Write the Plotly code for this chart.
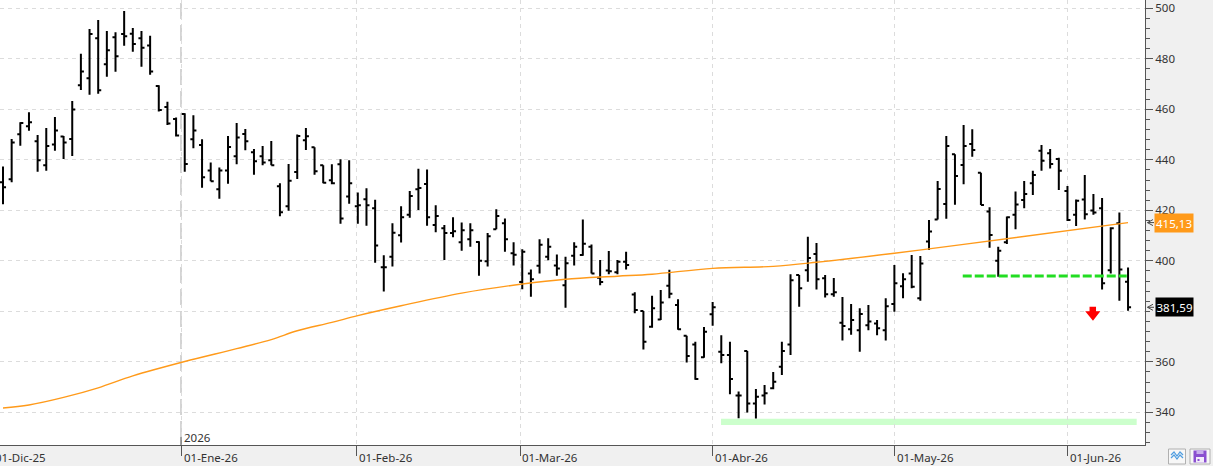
import plotly.graph_objects as go

# ---------------- data ----------------
session = list(range(131))  # trading sessions, 0 = first bar (early Dec-25)

open_ = [431.1, 432.3, 450.1, 453.3, 447.3, 437.8, 446.1, 449.2, 448.2, 469.5,
         472.3, 488.1, 477.8, 488.5, 489.8, 489.9, 488.1, 485.3, 469.2, 460.9,
         456.2, 458.1, 448.1, 445.9, 435.8, 428.3, 435.8, 441.4, 450.2, 443.0,
         441.4, 439.8, 429.5, 421.6, 435.2, 447.7, 445.0, 437.8, 431.9, 438.2,
         425.5, 421.6, 424.4, 420.8, 397.4, 401.6, 410.1, 418.2, 428.3, 430.4,
         414.2, 412.9, 411.0, 407.3, 408.5, 407.4, 399.8, 412.5, 414.9, 403.0,
         391.6, 395.0, 398.0, 401.6, 398.1, 390.3, 402.0, 402.3, 405.6, 393.3,
         396.2, 395.5, 399.6, 386.7, 380.1, 373.9, 376.8, 390.1, 382.5, 370.3,
         366.9, 361.8, 378.8, 364.0, 362.7, 346.7, 364.3, 343.5, 346.7, 349.5,
         358.0, 366.9, 394.4, 396.3, 402.7, 393.1, 386.8, 375.5, 372.9, 372.5,
         374.5, 375.2, 372.5, 382.9, 389.9, 395.0, 385.2, 407.6, 416.4, 422.5,
         442.2, 437.9, 446.3, 434.9, 419.5, 400.0, 407.3, 418.2, 424.1, 430.7,
         443.6, 442.6, 440.3, 427.6, 418.2, 424.3, 419.9, 420.8, 396.3, 414.9,
         391.7]
high = [437.3, 448.2, 454.9, 458.8, 449.8, 452.6, 457.0, 449.4, 463.3, 482.0,
        491.8, 495.4, 491.0, 490.5, 498.9, 492.2, 491.0, 489.1, 469.5, 463.0,
        456.8, 458.4, 457.6, 448.1, 438.9, 437.0, 449.4, 454.6, 452.2, 444.3,
        445.5, 447.4, 430.7, 438.3, 450.0, 452.6, 445.0, 437.8, 438.2, 440.2,
        439.8, 427.1, 428.7, 424.2, 402.2, 414.9, 421.6, 427.6, 436.5, 436.2,
        422.0, 414.2, 417.2, 415.2, 414.9, 407.7, 411.0, 420.4, 416.8, 407.3,
        404.6, 396.6, 408.5, 408.9, 402.5, 401.6, 407.3, 416.4, 406.5, 400.3,
        403.9, 400.3, 403.6, 387.5, 380.1, 386.2, 388.4, 396.5, 384.8, 370.3,
        367.9, 373.8, 383.7, 370.5, 367.9, 348.2, 364.3, 349.2, 350.8, 356.0,
        367.9, 394.7, 394.4, 409.5, 407.1, 394.4, 393.2, 385.7, 382.9, 381.2,
        382.5, 376.6, 385.2, 398.3, 395.1, 402.3, 401.9, 416.2, 431.6, 449.4,
        442.2, 453.8, 452.1, 434.9, 421.2, 405.6, 417.5, 427.4, 431.6, 435.7,
        445.9, 444.3, 440.8, 429.6, 424.3, 434.0, 426.5, 424.9, 413.3, 419.1,
        397.3]
low = [422.4, 431.1, 445.6, 451.5, 435.3, 435.7, 443.6, 440.3, 441.5, 467.6,
       465.8, 466.2, 472.9, 474.9, 485.2, 482.8, 476.9, 473.7, 459.1, 453.8,
       449.2, 435.3, 444.6, 428.9, 431.5, 424.6, 430.5, 438.2, 443.8, 434.1,
       437.8, 437.8, 417.6, 419.8, 432.4, 443.9, 434.1, 430.7, 430.3, 414.7,
       422.6, 414.7, 413.9, 399.2, 387.8, 397.7, 407.2, 417.1, 420.1, 413.9,
       411.3, 400.3, 409.3, 404.0, 405.6, 394.1, 397.7, 412.5, 403.6, 398.1,
       388.7, 385.8, 395.0, 400.2, 394.1, 381.4, 398.1, 402.0, 395.0, 390.3,
       394.7, 394.7, 396.6, 379.2, 364.9, 373.5, 376.6, 385.2, 372.7, 359.7,
       352.9, 361.6, 374.3, 359.4, 347.1, 337.6, 339.9, 337.5, 343.1, 349.1,
       354.8, 362.7, 381.8, 391.7, 388.6, 385.5, 385.8, 368.4, 370.7, 364.0,
       372.5, 370.5, 368.4, 379.8, 385.2, 389.1, 384.2, 404.3, 416.4, 416.7,
       422.2, 430.3, 441.2, 422.1, 405.2, 393.7, 406.7, 412.5, 420.8, 426.1,
       435.7, 436.6, 428.0, 415.8, 413.8, 416.4, 418.2, 388.6, 395.0, 384.2,
       380.2]
close = [429.1, 446.9, 454.6, 454.9, 439.8, 445.5, 451.6, 446.9, 459.9, 475.0,
         489.8, 467.5, 483.4, 481.0, 488.9, 485.9, 484.4, 475.0, 459.7, 454.4,
         449.6, 438.3, 451.6, 433.1, 431.5, 435.8, 445.1, 448.8, 447.3, 439.4,
         438.9, 437.8, 419.2, 431.7, 449.4, 449.3, 435.5, 430.9, 430.7, 416.8,
         430.7, 422.0, 422.0, 406.1, 397.4, 411.1, 417.2, 425.7, 428.8, 417.2,
         417.7, 411.0, 411.7, 412.1, 412.1, 400.0, 409.7, 417.7, 408.5, 402.4,
         403.6, 392.7, 406.4, 405.6, 397.0, 399.0, 405.6, 406.8, 395.0, 391.6,
         395.9, 399.6, 398.3, 380.5, 367.9, 381.2, 383.5, 387.0, 372.9, 362.3,
         353.2, 371.9, 381.6, 362.7, 353.2, 346.7, 343.5, 346.2, 347.5, 352.1,
         364.3, 392.3, 389.1, 401.1, 392.7, 386.8, 387.5, 374.2, 376.6, 378.9,
         376.0, 373.3, 382.0, 391.1, 392.7, 389.7, 398.9, 411.6, 428.4, 445.5,
         433.6, 445.5, 443.9, 422.1, 410.2, 404.0, 417.2, 422.3, 426.5, 434.0,
         439.6, 438.3, 435.7, 416.2, 423.8, 418.4, 419.1, 391.1, 412.9, 396.6,
         381.59]

# long moving average (orange), read at selected sessions
ma_session = [0, 3, 7, 11, 15, 21, 27, 31, 34, 38, 41, 46, 53, 60, 65, 71, 75,
              82, 89, 94, 103, 111, 130]
ma_value = [341.7, 342.9, 345.9, 349.7, 354.4, 360.1, 365.2, 368.8, 372.3,
            375.6, 378.3, 382.2, 387.2, 390.8, 392.7, 393.9, 394.7, 397.0,
            397.8, 399.4, 403.0, 406.5, 415.13]

month_pos = [-1.2, 20.57, 40.79, 59.74, 82.0, 103.0, 123.0]
month_labels = ["01-Dic-25", "01-Ene-26", "01-Feb-26", "01-Mar-26",
                "01-Abr-26", "01-May-26", "01-Jun-26"]
year_pos = 20.57
year_label = "2026"

price_ticks = [340, 360, 400, 420, 440, 460, 480, 500]
price_tick_labels = ["340", "360", "400", "420", "440", "460", "480", "500"]

support_level = 394.0
support_span = [110.9, 129.85]
floor_band = [335.0, 337.4]
floor_span = [82.97, 131.0]
arrow_session = 125.95

last_ma = 415.13
last_close = 381.59
last_ma_text = "415,13"
last_close_text = "381,59"

# ---------------- layout constants ----------------
W, H = 1213, 466
ML, MR, MT, MB = 0, 68, 0, 21
PW, PH = W - ML - MR, H - MT - MB
XR = [-0.347, 131.96]
YR = [327.05, 503.29]

FONT = "Noto Sans, Open Sans, Arial, sans-serif"
FS = 11.5
TXT = "#333333"
AX = "#555555"
GRID = "#dcdcdc"
ORANGE = "#ff9a1a"


def xp(px):
    return px / PW


def yp(py):
    return (PH - py) / PH


def x2paper(v):
    return (v - XR[0]) / (XR[1] - XR[0])


fig = go.Figure()

fig.add_trace(go.Scatter(
    x=ma_session, y=ma_value, mode="lines",
    line=dict(color=ORANGE, width=1.4, shape="spline", smoothing=1.0),
    hoverinfo="skip", showlegend=False))

fig.add_trace(go.Ohlc(
    x=session, open=open_, high=high, low=low, close=close,
    increasing=dict(line=dict(color="black", width=2)),
    decreasing=dict(line=dict(color="black", width=2)),
    tickwidth=0.35, hoverinfo="skip", showlegend=False))

fig.add_trace(go.Scatter(
    x=support_span, y=[support_level, support_level], mode="lines",
    line=dict(color="#22dd22", width=3, dash="9px,3px"),
    hoverinfo="skip", showlegend=False))

shapes = []
# green floor band
shapes.append(dict(type="rect", xref="x", yref="y",
                   x0=floor_span[0], x1=floor_span[1],
                   y0=floor_band[0], y1=floor_band[1],
                   fillcolor="#ccffcc", line=dict(width=0), layer="below"))
# year separator
shapes.append(dict(type="line", xref="x", yref="paper",
                   x0=year_pos, x1=year_pos, y0=yp(437), y1=1,
                   line=dict(color="#c8c8c8", width=1.6, dash="16px,6px"),
                   layer="below"))
shapes.append(dict(type="line", xref="x", yref="paper",
                   x0=year_pos, x1=year_pos, y0=0, y1=yp(437),
                   line=dict(color="#444444", width=1)))
# red down arrow
a = arrow_session
shapes.append(dict(type="path", xref="x", yref="y",
                   path=(f"M {a-0.4},381.8 L {a+0.35},381.8 L {a+0.35},380.0 "
                         f"L {a+0.85},380.0 L {a},376.3 L {a-0.9},380.0 "
                         f"L {a-0.4},380.0 Z"),
                   fillcolor="#ff0000", line=dict(width=0)))
# small pointer arrows beside the value boxes
for val in (last_ma, last_close):
    shapes.append(dict(type="path", xref="paper", yref="y",
                       path=(f"M {xp(1153)},{val+1.2} L {xp(1147.5)},{val} "
                             f"L {xp(1153)},{val-1.2} M {xp(1147.5)},{val} "
                             f"L {xp(1154)},{val}"),
                       line=dict(color="#444444", width=1)))
# bottom-right toolbar icons
shapes.append(dict(type="rect", xref="paper", yref="paper",
                   x0=xp(1168.5), x1=xp(1185.5), y0=yp(464), y1=yp(449),
                   fillcolor="#f7f7f7", line=dict(color="#b0b0b0", width=1)))
for dy in (0, 3):
    pts = [(1171, 455 + dy), (1174, 452 + dy), (1177, 456 + dy),
           (1180, 452 + dy), (1183, 455 + dy)]
    p = "M " + " L ".join(f"{xp(x)},{yp(y)}" for x, y in pts)
    shapes.append(dict(type="path", xref="paper", yref="paper", path=p,
                       line=dict(color="#4f9de0", width=1.2)))
shapes.append(dict(type="rect", xref="paper", yref="paper",
                   x0=xp(1190), x1=xp(1210), y0=yp(464), y1=yp(449),
                   fillcolor="#f7f7f7", line=dict(color="#b0b0b0", width=1)))
shapes.append(dict(type="rect", xref="paper", yref="paper",
                   x0=xp(1193.5), x1=xp(1206.5), y0=yp(462.5), y1=yp(450.5),
                   fillcolor="#8a4fd0", line=dict(width=0)))
shapes.append(dict(type="rect", xref="paper", yref="paper",
                   x0=xp(1196), x1=xp(1204), y0=yp(462.5), y1=yp(457),
                   fillcolor="#f3ecfb", line=dict(width=0)))
shapes.append(dict(type="rect", xref="paper", yref="paper",
                   x0=xp(1197.5), x1=xp(1199.5), y0=yp(461), y1=yp(459),
                   fillcolor="#8a4fd0", line=dict(width=0)))
shapes.append(dict(type="rect", xref="paper", yref="paper",
                   x0=xp(1196.5), x1=xp(1203.5), y0=yp(454), y1=yp(450.5),
                   fillcolor="#c9b0ec", line=dict(width=0)))

annotations = []
for pos, lab in zip(month_pos, month_labels):
    annotations.append(dict(xref="paper", yref="paper", x=x2paper(pos) + xp(0.5),
                            y=yp(458), text=lab, showarrow=False,
                            xanchor="left", yanchor="middle",
                            font=dict(family=FONT, size=FS, color=TXT)))
annotations.append(dict(xref="paper", yref="paper", x=x2paper(year_pos) + xp(0.5),
                        y=yp(437), text=year_label, showarrow=False,
                        xanchor="left", yanchor="middle",
                        font=dict(family=FONT, size=FS, color=TXT)))
annotations.append(dict(xref="paper", yref="y", x=xp(1174.3), y=last_ma,
                        text=last_ma_text, showarrow=False, xanchor="center",
                        yanchor="middle", bgcolor=ORANGE, width=38, height=18,
                        borderpad=0, font=dict(family=FONT, size=FS, color="white")))
annotations.append(dict(xref="paper", yref="y", x=xp(1174.5), y=last_close,
                        text=last_close_text, showarrow=False, xanchor="center",
                        yanchor="middle", bgcolor="black", width=37, height=18,
                        borderpad=0, font=dict(family=FONT, size=FS, color="white")))

fig.update_layout(
    width=W, height=H, autosize=False,
    margin=dict(l=ML, r=MR, t=MT, b=MB, pad=0),
    paper_bgcolor="#f0f0f0", plot_bgcolor="white",
    showlegend=False, hovermode=False,
    font=dict(family=FONT, size=FS, color=TXT),
    shapes=shapes, annotations=annotations,
    xaxis=dict(range=XR, type="linear", rangeslider=dict(visible=False),
               tickvals=month_pos[1:], ticktext=[""] * (len(month_pos) - 1),
               showticklabels=False, ticks="outside", ticklen=10,
               tickcolor=AX, showgrid=True, gridcolor=GRID, griddash="4px,4px",
               gridwidth=1, showline=True, linecolor=AX, linewidth=1,
               zeroline=False, fixedrange=True),
    yaxis=dict(range=YR, side="right", tickmode="array",
               tickvals=price_ticks, ticktext=price_tick_labels,
               ticks="outside", ticklen=7, tickcolor=AX, showgrid=False,
               showline=True, linecolor=AX, linewidth=1, zeroline=False,
               ticklabeloverflow="allow",
               tickfont=dict(family=FONT, size=FS, color=TXT),
               minor=dict(dtick=4, tick0=0, ticks="outside", ticklen=4,
                          tickcolor=AX, showgrid=False),
               fixedrange=True),
    yaxis2=dict(range=YR, overlaying="y", side="right", dtick=20, tick0=0,
                showgrid=True, gridcolor=GRID, griddash="4px,4px", gridwidth=1,
                showticklabels=False, ticks="", showline=False, zeroline=False,
                fixedrange=True),
)

# invisible trace to carry the full 20-step grid (incl. 380) on yaxis2
fig.add_trace(go.Scatter(x=[XR[0]], y=[YR[0]], yaxis="y2", mode="markers",
                         marker=dict(opacity=0), hoverinfo="skip",
                         showlegend=False))

fig.write_html("out.html", config={"displayModeBar": False})
